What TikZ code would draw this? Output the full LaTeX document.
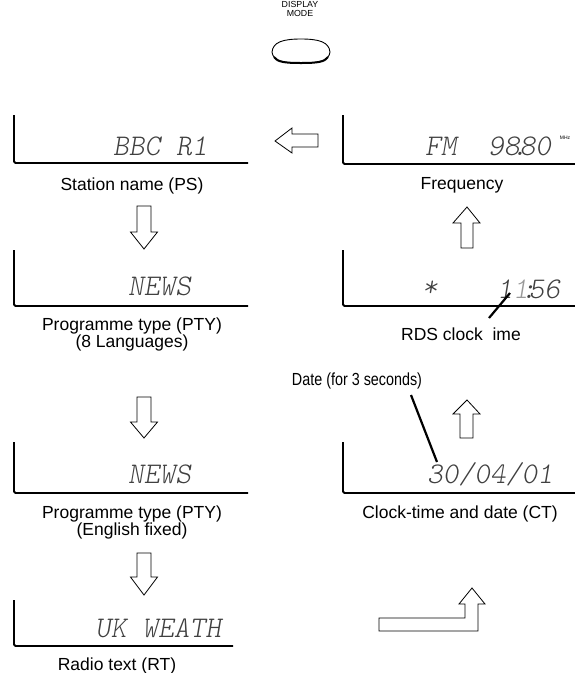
\documentclass[tikz,border=0pt]{standalone}
\usepackage{fontspec}
\setmainfont{Liberation Sans}

\begin{document}
\begin{tikzpicture}[x=1pt, y=-1pt, every node/.style={inner sep=0pt},
	lbl/.style={font=\fontsize{17.5}{16.5}\selectfont, align=center, anchor=base},
	lcd/.style={font=\fontfamily{lmtt}\fontseries{l}\fontshape{sl}\fontsize{30}{30}\selectfont, text=black!75, anchor=base west},
	panel/.style={line width=1.8pt, rounded corners=1.5pt},
	blk/.style={line width=0.8pt, fill=white, line join=miter},
	callout/.style={line width=2.2pt}]
	\useasboundingbox (0,0) rectangle (575,673);
	% display mode button
	\node[font=\fontsize{8.8}{9}\selectfont, align=center, anchor=base] (mode) at (300,16) {DISPLAY\\MODE};
	\draw[line width=0.9pt] (272,52) .. controls (273,42) and (283,39) .. (301,39) .. controls (319,39) and (329,42) .. (330,52) .. controls (329,61) and (319,63) .. (301,63) .. controls (283,63) and (273,61) .. (272,52) -- cycle;
	\draw[line width=2pt] (274,57) .. controls (277,62) and (285,63) .. (301,63) .. controls (317,63) and (325,62) .. (328,57);
	% displays
	\draw[panel] (14,115) -- (14,163) -- (248,163);
	\draw[panel] (343,115) -- (343,164) -- (575,164);
	\draw[panel] (14,250) -- (14,306) -- (248,306);
	\draw[panel] (343,250) -- (343,306) -- (575,306);
	\draw[panel] (14,442) -- (14,493) -- (248,493);
	\draw[panel] (343,442) -- (343,493) -- (575,493);
	\draw[panel] (14,600) -- (14,646) -- (233,646);
	% display contents
	\node[lcd] (ps) at (113,155) {BBC R1};
	\node[lcd] (freq) at (425,155) {FM\ \ 98\makebox[0pt]{.}80};
	\node[font=\fontsize{5}{5}\selectfont] (mhz) at (565,138) {MHz};
	\node[lcd, anchor=center] (star) at (430,289) {*};
	\node[lcd] (clock) at (497,298) {1\textcolor{black!40}{1}\makebox[0pt]{:}56};
	\node[lcd] (pty) at (128,295) {NEWS};
	\node[lcd] (ptyen) at (128,483) {NEWS};
	\node[lcd] (date) at (427,483) {30/04/01};
	\node[lcd] (rt) at (95,637) {UK WEATH};
	% captions
	\node[lbl] (psl) at (132,190) {Station name (PS)};
	\node[lbl] (freql) at (462,189) {Frequency};
	\node[lbl] (clockl) at (461,340) {RDS clock \phantom{t}ime};
	\node[lbl] (datel) at (357,385) {\scalebox{0.82}[1]{Date (for 3 seconds)}};
	\node[lbl] (ptyl) at (132,347) {Programme type (PTY)\\(8 Languages)};
	\node[lbl] (ptyenl) at (132,535) {Programme type (PTY)\\(English fixed)};
	\node[lbl] (ctl) at (460,518) {Clock-time and date (CT)};
	\node[lbl] (rtl) at (117,670) {Radio text (RT)};
	% pointers
	\coordinate (clocktip) at (510,293);
	\coordinate (clockend) at (489,318);
	\coordinate (datetop) at (411,395);
	\coordinate (datetip) at (437,462);
	\draw[callout] (clocktip) -- (clockend);
	\draw[callout] (datetop) -- (datetip);
	% block arrows
	\draw[blk] (318,134) -- (292,134) -- (292,128) -- (275,141) -- (292,153) -- (292,147) -- (318,147) -- cycle;
	\draw[blk] (137,206) -- (151,206) -- (151,232) -- (157.5,232) -- (144,249) -- (130.5,232) -- (137,232) -- cycle;
	\draw[blk] (137,397) -- (151,397) -- (151,422) -- (157.5,422) -- (144,438) -- (130.5,422) -- (137,422) -- cycle;
	\draw[blk] (137,553) -- (151,553) -- (151,577) -- (157.5,577) -- (144,595) -- (130.5,577) -- (137,577) -- cycle;
	\draw[blk] (461,248) -- (473,248) -- (473,223) -- (480,223) -- (467,207) -- (453,223) -- (461,223) -- cycle;
	\draw[blk] (460,438) -- (473,438) -- (473,414) -- (480,414) -- (467,400) -- (453,414) -- (460,414) -- cycle;
	\draw[blk] (379,618) -- (465,618) -- (465,604) -- (459,604) -- (472,588) -- (485,604) -- (478,604) -- (478,631) -- (379,631) -- cycle;
\end{tikzpicture}
\end{document}
